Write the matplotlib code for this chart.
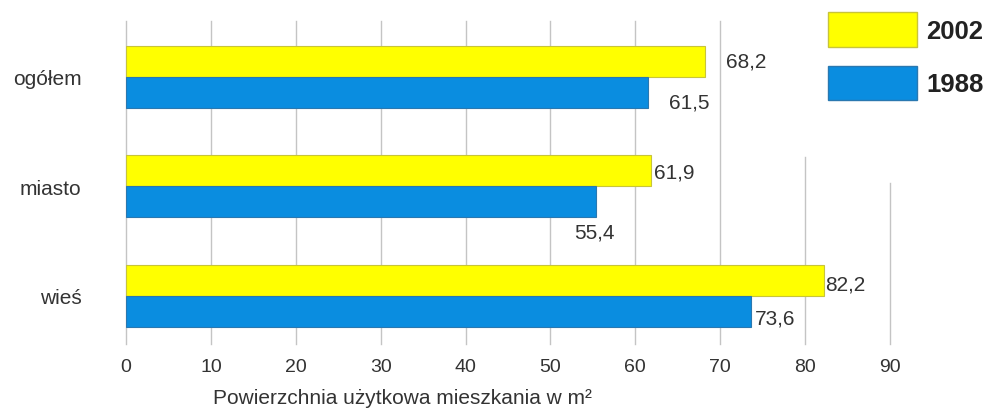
import matplotlib
matplotlib.use('Agg')
import matplotlib.pyplot as plt
from matplotlib.patches import Rectangle

plt.rcParams['font.family'] = ['Liberation Sans', 'DejaVu Sans']

categories = ['ogółem', 'miasto', 'wieś']
values_2002 = [68.2, 61.9, 82.2]
values_1988 = [61.5, 55.4, 73.6]
labels_2002 = ['68,2', '61,9', '82,2']
labels_1988 = ['61,5', '55,4', '73,6']
xticks = [0, 10, 20, 30, 40, 50, 60, 70, 80, 90]

yellow = '#ffff00'
blue = '#0a8de0'

fig = plt.figure(figsize=(9.88, 4.10), dpi=100)
ax = fig.add_axes([126 / 988, 1 - 345 / 410, 764 / 988, 323 / 410])

ypos = list(range(len(categories)))
h = 0.283
ax.barh([y - h / 2 for y in ypos], values_2002, height=h, color=yellow,
        edgecolor='#c8c43a', linewidth=0.8, zorder=3)
ax.barh([y + h / 2 for y in ypos], values_1988, height=h, color=blue,
        edgecolor='#2a78b0', linewidth=0.8, zorder=3)

# value labels, offsets (points) picked to match the original placement
off_2002 = [(15, 0), (2, -1), (1, -3)]
off_1988 = [(15, -7), (-16, -22), (3, -5)]
for y, v, s, o in zip(ypos, values_2002, labels_2002, off_2002):
    ax.annotate(s, (v, y - h / 2), xytext=o, textcoords='offset points',
                ha='left', va='center', fontsize=15, color='#333333')
for y, v, s, o in zip(ypos, values_1988, labels_1988, off_1988):
    ax.annotate(s, (v, y + h / 2), xytext=o, textcoords='offset points',
                ha='left', va='center', fontsize=15, color='#333333')

# vertical grid lines, the two right ones are cut short under the legend
for t in xticks:
    top = 1.0
    if t == 80:
        top = 0.579
    elif t == 90:
        top = 0.50
    ax.axvline(t, ymin=0, ymax=top, color='#c4c4c4', lw=1.0, zorder=1,
               clip_on=False)

ax.set_xlim(0, 90)
ax.set_ylim(2.44, -0.51)
ax.set_xticks(xticks)
ax.set_yticks(ypos)
ax.set_yticklabels(categories)
ax.tick_params(length=0, labelsize=14, colors='#333333')
ax.tick_params(axis='y', labelsize=15, pad=32)
ax.tick_params(axis='x', pad=10)
for sp in ax.spines.values():
    sp.set_visible(False)

ax.set_xlabel('Powierzchnia użytkowa mieszkania w m²', fontsize=15,
              color='#333333')
ax.xaxis.set_label_coords((402 - 126) / 764, -0.135)

# legend boxes
fig.add_artist(Rectangle((828 / 988, 1 - 48 / 410), 89 / 988, 35 / 410,
                         facecolor=yellow, edgecolor='#c8c43a', lw=1,
                         transform=fig.transFigure))
fig.add_artist(Rectangle((828 / 988, 1 - 101 / 410), 89 / 988, 34 / 410,
                         facecolor=blue, edgecolor='#2a78b0', lw=1,
                         transform=fig.transFigure))
fig.text(926 / 988, 1 - 32 / 410, '2002', fontsize=18.5, fontweight='bold',
         va='center', ha='left', color='#222222')
fig.text(926 / 988, 1 - 85 / 410, '1988', fontsize=18.5, fontweight='bold',
         va='center', ha='left', color='#222222')

fig.savefig('out.png', dpi=100)
